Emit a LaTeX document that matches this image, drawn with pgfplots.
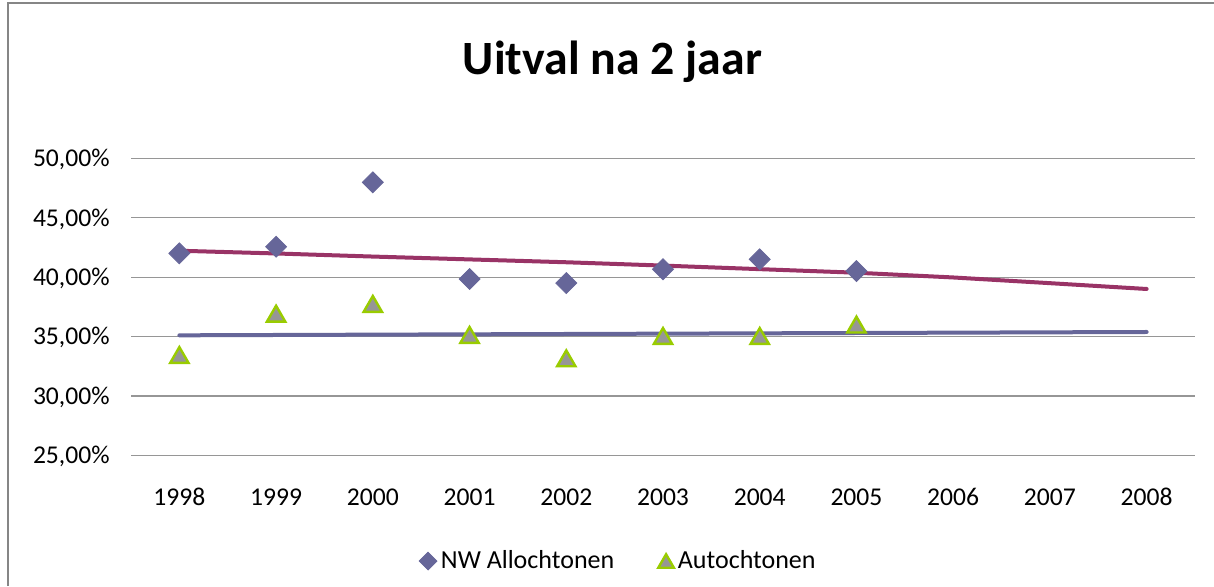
\documentclass[border=0pt]{standalone}
\usepackage{fontspec}
\setmainfont{Carlito}
\usepackage{pgfplots}
\pgfplotsset{compat=1.18}
\definecolor{nwblue}{RGB}{102,102,153}
\definecolor{trendred}{RGB}{153,51,102}
\definecolor{autgreen}{RGB}{153,204,0}
\definecolor{autgray}{RGB}{150,150,150}
\definecolor{gridgray}{RGB}{150,150,150}
\definecolor{framegray}{RGB}{134,134,134}
\begin{document}
\begin{tikzpicture}
\useasboundingbox (0,0) rectangle (607pt,293pt);
\draw[framegray, line width=1pt] (4pt,0) -- (4pt,291.5pt) -- (607pt,291.5pt);
\node[anchor=base, inner sep=0pt, font=\fontsize{23.9}{28}\selectfont\bfseries] at (306.25pt,255.9pt) {Uitval na 2 jaar};
\begin{axis}[
  at={(65.5pt,65.35pt)}, anchor=south west,
  scale only axis, width=532pt, height=148.5pt,
  xmin=-0.5, xmax=10.5, ymin=25, ymax=50,
  xtick={0,1,2,3,4,5,6,7,8,9,10},
  xticklabels={1998,1999,2000,2001,2002,2003,2004,2005,2006,2007,2008},
  ytick={25,30,35,40,45,50},
  /pgf/number format/assume math mode=true,
  yticklabel={\pgfmathprintnumber[fixed,fixed zerofill,precision=2,use comma,assume math mode=true]{\tick}\%},
  tick label style={font=\fontsize{12.8}{15}\selectfont},
  yticklabel style={anchor=base east, inner sep=0pt, xshift=-10.5pt, yshift=-4.2pt},
  xticklabel style={anchor=base, inner sep=0pt, yshift=-25.3pt},
  ymajorgrids, grid style={gridgray, line width=0.6pt},
  axis line style={draw=none}, major tick length=0pt,
  clip=false,
  legend style={at={(0.459,-0.356)}, anchor=center, draw=none, fill=none,
    legend columns=2, font=\fontsize{13}{15}\selectfont,
    /tikz/every even column/.append style={column sep=20pt}},
  legend cell align=left,
  legend image post style={scale=0.85},
]
\addplot[trendred, line width=2pt, line cap=round, forget plot] coordinates {
 (0,42.22) (1,41.99) (2,41.73) (3,41.49) (4,41.25) (5,40.97) (6,40.67) (7,40.37) (8,39.97) (9,39.49) (10,39.00)};
\addplot[nwblue, line width=2pt, line cap=round, forget plot] coordinates {(0,35.10) (10,35.38)};
\addplot[only marks, mark=square*, mark size=3.7pt, mark options={rotate=45, fill=nwblue, draw=nwblue}] coordinates {
 (0,42.00) (1,42.56) (2,47.98) (3,39.84) (4,39.50) (5,40.66) (6,41.50) (7,40.51)};
\addlegendentry{NW Allochtonen}
\addplot[only marks, mark=triangle*, mark size=5.3pt, mark options={fill=autgray, draw=autgreen, line width=1.2pt, yshift=-1.3pt}] coordinates {
 (0,33.44) (1,36.92) (2,37.74) (3,35.13) (4,33.16) (5,35.04) (6,35.04) (7,36.00)};
\addlegendentry{Autochtonen}
\end{axis}
\end{tikzpicture}
\end{document}
